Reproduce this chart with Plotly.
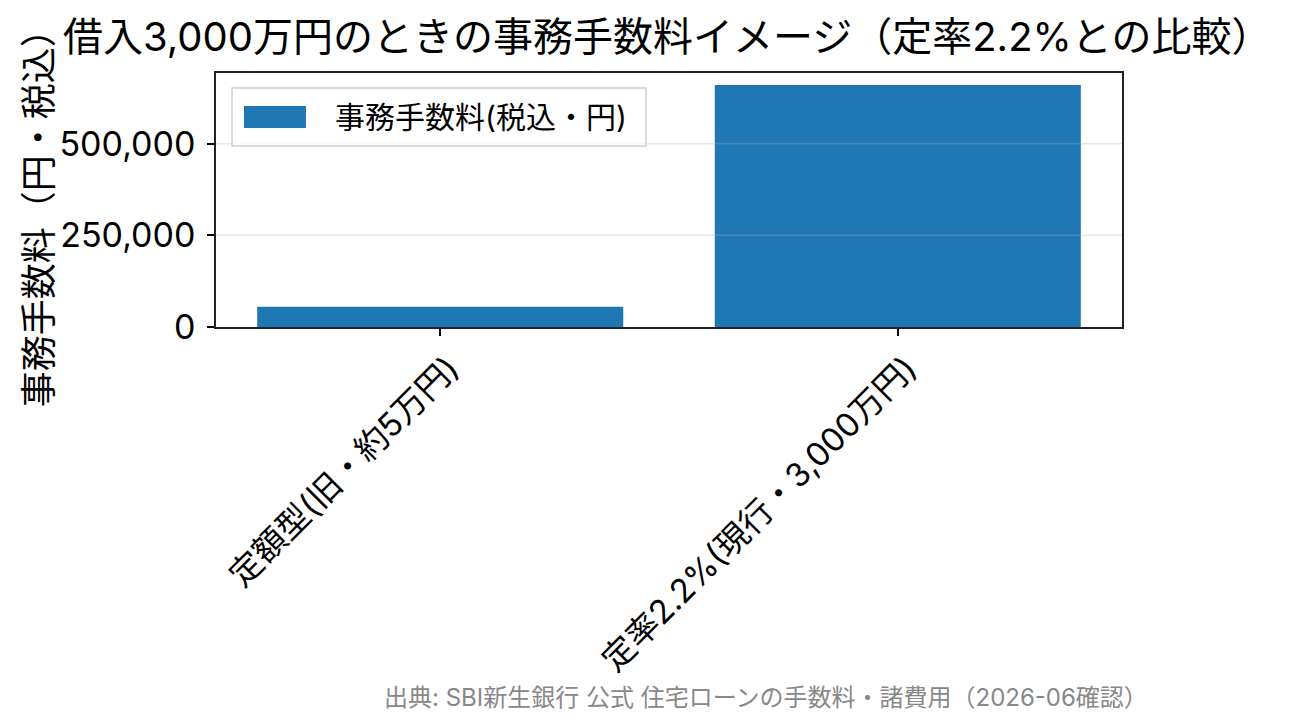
import plotly.graph_objects as go

# data
categories = ["定額型(旧・約5万円)", "定率2.2%(現行・3,000万円)"]
fees = [55000, 660000]
y_ticks = [0, 250000, 500000]
y_ticklabels = ["0", "250,000", "500,000"]

title_text = "借入3,000万円のときの事務手数料イメージ（定率2.2%との比較）"
y_title = "事務手数料（円・税込）"
legend_name = "事務手数料(税込・円)"
source_text = "出典: SBI新生銀行 公式 住宅ローンの手数料・諸費用（2026-06確認）"

font_family = "Inter, Noto Sans CJK JP"
bar_color = "#1f77b4"

# page has an 8px body margin, so the figure is a bit smaller than the window
W, H = 1276, 709

fig = go.Figure()
fig.add_trace(go.Bar(
    x=list(range(len(categories))), y=fees, width=0.8,
    marker_color=bar_color, marker_line_width=0,
    name=legend_name, showlegend=False,
))

# grid lines drawn over the bars (like matplotlib here)
shapes = []
for v in y_ticks[1:]:
    shapes.append(dict(type="line", xref="paper", yref="y", x0=0, x1=1, y0=v, y1=v,
                       line=dict(color="rgba(176,176,176,0.3)", width=1.5), layer="above"))

# hand-made legend box, matplotlib style
shapes.append(dict(type="rect", xref="paper", yref="paper", x0=0.0177, x1=0.4746, y0=0.7126, y1=0.941,
                   line=dict(color="#d0d0d0", width=1.5), fillcolor="rgba(255,255,255,0.8)", layer="above"))
shapes.append(dict(type="rect", xref="paper", yref="paper", x0=0.0309, x1=0.0993, y0=0.7835, y1=0.8701,
                   line=dict(width=0), fillcolor=bar_color, layer="above"))

annotations = [
    dict(text=legend_name, xref="paper", yref="paper", x=0.1291, y=0.8268,
         xanchor="left", yanchor="middle", showarrow=False,
         font=dict(size=30, color="black", family=font_family)),
    dict(text=y_title, xref="paper", yref="paper", x=-0.196, y=0.465, textangle=-90,
         xanchor="center", yanchor="middle", showarrow=False,
         font=dict(size=36, color="black", family=font_family)),
    dict(text=source_text, xref="paper", yref="paper", x=1.031, y=-1.457,
         xanchor="right", yanchor="middle", showarrow=False,
         font=dict(size=24, color="#888888", family=font_family)),
]

fig.update_layout(
    width=W, height=H,
    margin=dict(l=208, r=162, t=65, b=390),
    paper_bgcolor="white", plot_bgcolor="white",
    font=dict(family=font_family, color="black"),
    title=dict(text=title_text, xref="container", yref="container", x=55 / W, y=1 - 29 / H,
               xanchor="left", yanchor="middle", font=dict(size=40, color="black", family=font_family)),
    shapes=shapes, annotations=annotations,
    bargap=0.2,
)
fig.update_xaxes(
    range=[-0.49, 1.49], tickmode="array", tickvals=list(range(len(categories))), ticktext=categories,
    tickangle=-45, tickfont=dict(size=33), ticks="outside", ticklen=7, tickwidth=1.5, tickcolor="black",
    ticklabelshift=9,
    showline=True, linecolor="#222222", linewidth=1.5, mirror=True, showgrid=False, zeroline=False,
)
fig.update_yaxes(
    range=[0, 693000], tickmode="array", tickvals=y_ticks, ticktext=y_ticklabels,
    tickfont=dict(size=34), ticks="outside", ticklen=7, tickwidth=1.5, tickcolor="black",
    ticklabelstandoff=5,
    showline=True, linecolor="#222222", linewidth=1.5, mirror=True, showgrid=False, zeroline=False,
)

fig.write_html("out.html")
